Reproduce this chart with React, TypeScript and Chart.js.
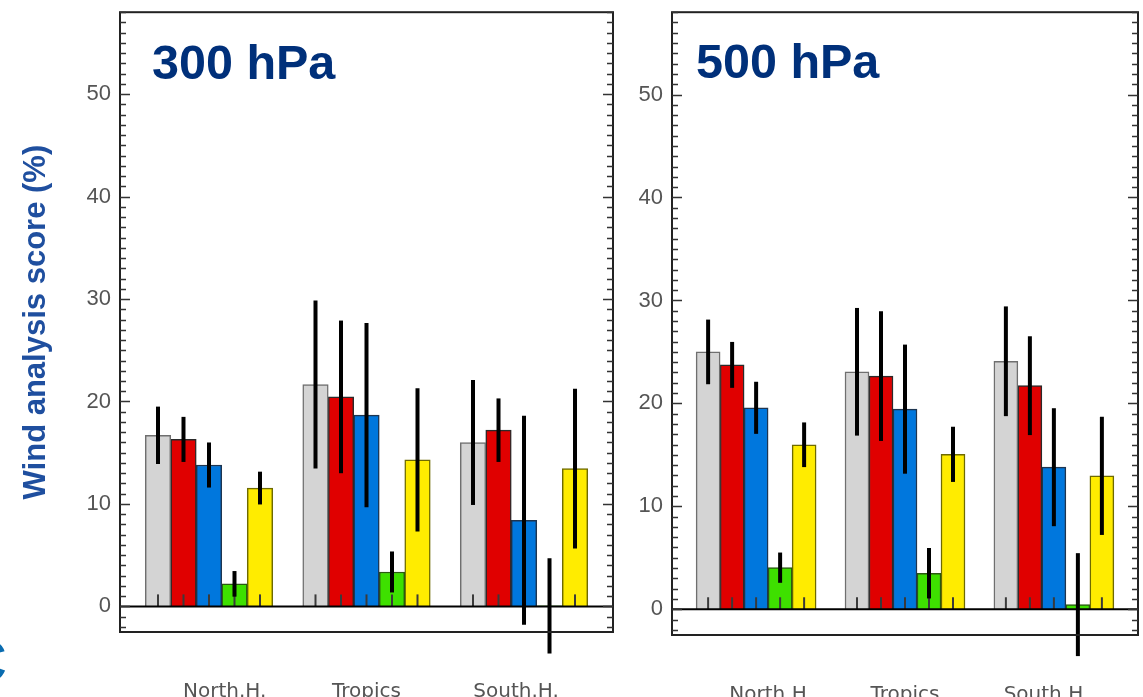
import React, { useEffect, useRef } from "react";
import { Chart, registerables } from "chart.js";

Chart.register(...registerables);

// ---------- data ----------
const categories = ["North.H.", "Tropics", "South.H."];
const categoryX = [1, 2, 3];
const labelX = [1.1, 2.0, 2.95];
const yTickValues = [0, 10, 20, 30, 40, 50];
const seriesKeys = ["grey", "red", "blue", "green", "yellow"];

// 300 hPa
const p300Grey = [16.7, 21.65, 16.0];
const p300GreyErr = [2.8, 8.2, 6.1];
const p300Red = [16.3, 20.45, 17.2];
const p300RedErr = [2.2, 7.45, 3.1];
const p300Blue = [13.8, 18.67, 8.4];
const p300BlueErr = [2.2, 9.0, 10.2];
const p300Green = [2.2, 3.36, 0.05];
const p300GreenErr = [1.25, 2.0, 4.65];
const p300Yellow = [11.55, 14.3, 13.45];
const p300YellowErr = [1.6, 7.0, 7.8];

// 500 hPa
const p500Grey = [25.0, 23.07, 24.09];
const p500GreyErr = [3.14, 6.2, 5.33];
const p500Red = [23.74, 22.65, 21.72];
const p500RedErr = [2.23, 6.3, 4.8];
const p500Blue = [19.57, 19.44, 13.8];
const p500BlueErr = [2.53, 6.27, 5.73];
const p500Green = [4.04, 3.5, 0.45];
const p500GreenErr = [1.47, 2.45, 5.0];
const p500Yellow = [15.98, 15.05, 12.96];
const p500YellowErr = [2.17, 2.68, 5.74];

// ---------- styles ----------
const FONT = "'Liberation Sans', Arial, Helvetica, sans-serif";
const LABEL_FONT = "'DejaVu Sans', Verdana, sans-serif";
const fills = ["#d4d4d4", "#e00000", "#0077dd", "#3ee000", "#ffec00"];
const borders = ["#6f6f6f", "#2a2a2a", "#1e3550", "#2a5a10", "#6e6a00"];

Chart.defaults.font.family = FONT;

const decorPlugin = {
  id: "decor",
  afterDatasetsDraw(chart: any) {
    const { ctx, chartArea: ca, scales } = chart;
    const ys = scales.y;
    const y0 = ys.getPixelForValue(0);
    ctx.save();
    // small tick marks at the bar centres
    chart.data.datasets.forEach((ds: any, di: number) => {
      const meta = chart.getDatasetMeta(di);
      meta.data.forEach((bar: any) => {
        ctx.strokeStyle = "#3a3a3a";
        ctx.lineWidth = 2;
        ctx.beginPath();
        ctx.moveTo(bar.x, y0);
        ctx.lineTo(bar.x, y0 - 12);
        ctx.stroke();
      });
    });
    // zero line
    ctx.strokeStyle = "#000";
    ctx.lineWidth = 2;
    ctx.beginPath();
    ctx.moveTo(ca.left, y0);
    ctx.lineTo(ca.right, y0);
    ctx.stroke();
    // error bars
    chart.data.datasets.forEach((ds: any, di: number) => {
      const meta = chart.getDatasetMeta(di);
      meta.data.forEach((bar: any, i: number) => {
        const v = ds.data[i].y;
        const e = ds.errors[i];
        ctx.strokeStyle = "#000";
        ctx.lineWidth = 4;
        ctx.lineCap = "butt";
        ctx.beginPath();
        ctx.moveTo(bar.x, ys.getPixelForValue(v + e));
        ctx.lineTo(bar.x, ys.getPixelForValue(v - e));
        ctx.stroke();
      });
    });
    // frame
    ctx.strokeStyle = "#222";
    ctx.lineWidth = 2;
    ctx.strokeRect(ca.left, ca.top, ca.right - ca.left, ca.bottom - ca.top);
    // inward ticks on left and right borders
    ctx.strokeStyle = "#333";
    ctx.lineWidth = 1.5;
    for (let v = Math.ceil(ys.min); v <= Math.floor(ys.max); v++) {
      const py = Math.round(ys.getPixelForValue(v)) + 0.5;
      const len = v % 10 === 0 ? 10 : 6;
      ctx.beginPath();
      ctx.moveTo(ca.left, py);
      ctx.lineTo(ca.left + len, py);
      ctx.moveTo(ca.right, py);
      ctx.lineTo(ca.right - len, py);
      ctx.stroke();
    }
    ctx.restore();
  },
};

type PanelProps = {
  left: number;
  width: number;
  padTop: number;
  padRight: number;
  yAxisWidth: number;
  xAxisHeight: number;
  barThickness: number;
  showYTitle: boolean;
  values: number[][];
  errors: number[][];
};

function Panel(p: PanelProps) {
  const ref = useRef<HTMLCanvasElement | null>(null);
  useEffect(() => {
    if (!ref.current) return;
    const chart = new Chart(ref.current, {
      type: "bar",
      data: {
        datasets: seriesKeys.map((k, si) => ({
          label: k,
          data: p.values[si].map((v, i) => ({ x: categoryX[i], y: v })),
          errors: p.errors[si],
          backgroundColor: fills[si],
          borderColor: borders[si],
          borderWidth: 1.5,
          barThickness: p.barThickness,
        })) as any,
      },
      options: {
        animation: false,
        responsive: false,
        devicePixelRatio: 1,
        layout: { padding: { top: p.padTop, right: p.padRight, left: 0, bottom: 0 } },
        plugins: { legend: { display: false }, tooltip: { enabled: false } },
        scales: {
          x: {
            type: "linear",
            min: 0.435,
            max: 3.565,
            offset: false,
            grid: { display: false, drawTicks: false },
            border: { display: false },
            afterBuildTicks: (a: any) => {
              a.ticks = labelX.map((v) => ({ value: v }));
            },
            afterFit: (a: any) => {
              a.height = p.xAxisHeight;
            },
            ticks: {
              autoSkip: false,
              maxRotation: 0,
              padding: 48,
              color: "#555",
              font: { size: 20, family: LABEL_FONT },
              callback: (_v: any, i: number) => categories[i],
            },
          },
          y: {
            min: -2.5,
            max: 58,
            grid: { display: false, drawTicks: false },
            border: { display: false },
            afterBuildTicks: (a: any) => {
              a.ticks = yTickValues.map((v) => ({ value: v }));
            },
            afterFit: (a: any) => {
              a.width = p.yAxisWidth;
            },
            ticks: { padding: 9, color: "#555", font: { size: 22, family: FONT } },
            title: {
              display: p.showYTitle,
              text: "Wind analysis score (%)",
              color: "#1f4f9f",
              font: { size: 31, weight: "bold", family: FONT },
              padding: { top: 18, bottom: 0 },
            },
          },
        } as any,
      },
      plugins: [decorPlugin],
    });
    return () => chart.destroy();
  }, []);
  return (
    <canvas
      ref={ref}
      width={p.width}
      height={730}
      style={{ position: "absolute", left: p.left, top: -10, width: p.width, height: 730 }}
    />
  );
}

const titleStyle: React.CSSProperties = {
  position: "absolute",
  fontFamily: FONT,
  fontWeight: "bold",
  fontSize: 48.5,
  lineHeight: "48px",
  color: "#00307a",
  whiteSpace: "nowrap",
};

export default function App() {
  return (
    <div
      style={{
        position: "absolute",
        left: 0,
        top: 0,
        width: 1143,
        height: 697,
        overflow: "hidden",
        background: "#fff",
      }}
    >
      <Panel
        left={0}
        width={625}
        padTop={20}
        padRight={12}
        yAxisWidth={120}
        xAxisHeight={88}
        barThickness={25.5}
        showYTitle={true}
        values={[p300Grey, p300Red, p300Blue, p300Green, p300Yellow]}
        errors={[p300GreyErr, p300RedErr, p300BlueErr, p300GreenErr, p300YellowErr]}
      />
      <Panel
        left={625}
        width={518}
        padTop={19}
        padRight={5}
        yAxisWidth={47}
        xAxisHeight={85}
        barThickness={24}
        showYTitle={false}
        values={[p500Grey, p500Red, p500Blue, p500Green, p500Yellow]}
        errors={[p500GreyErr, p500RedErr, p500BlueErr, p500GreenErr, p500YellowErr]}
      />
      <div style={{ ...titleStyle, left: 152, top: 38 }}>300 hPa</div>
      <div style={{ ...titleStyle, left: 696, top: 37 }}>500 hPa</div>
      <div
        style={{
          position: "absolute",
          left: -38,
          top: 630,
          fontFamily: FONT,
          fontWeight: "bold",
          fontSize: 62,
          lineHeight: "62px",
          color: "#0a6cb0",
        }}
      >
        C
      </div>
    </div>
  );
}
